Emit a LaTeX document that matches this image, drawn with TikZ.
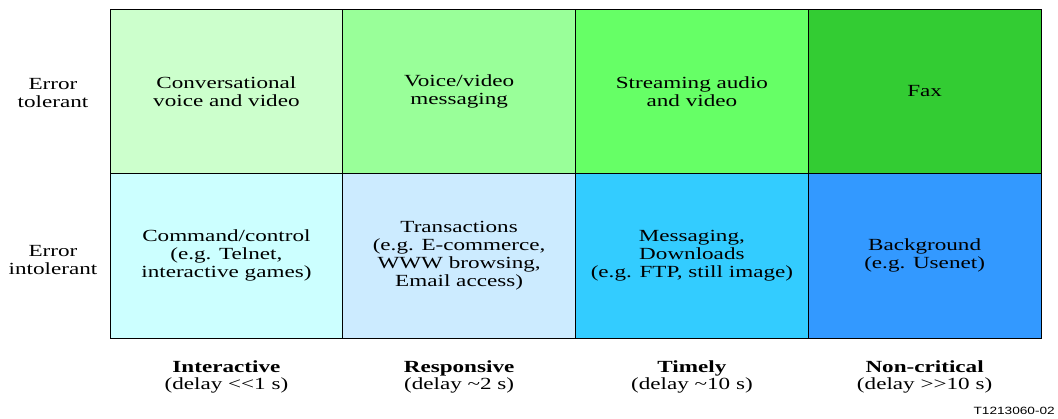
\documentclass[tikz,border=0pt]{standalone}
\usepackage{fontspec}
\setmainfont{Liberation Serif}[FakeStretch=1.36]
\newfontfamily\tagfont{Liberation Sans}[FakeStretch=1.3]
\definecolor{tolA}{HTML}{CCFFCC}
\definecolor{tolB}{HTML}{99FF99}
\definecolor{tolC}{HTML}{66FF66}
\definecolor{tolD}{HTML}{33CC33}
\definecolor{intA}{HTML}{CCFFFF}
\definecolor{intB}{HTML}{CCEBFF}
\definecolor{intC}{HTML}{33CCFF}
\definecolor{intD}{HTML}{3399FF}
\begin{document}
\begin{tikzpicture}
	[x=1pt,y=-1pt,
	every node/.style={align=center,inner sep=0pt,font=\fontsize{17}{18}\selectfont},
	cell/.style={draw=black,line width=0.7pt,minimum width=232.75pt,minimum height=164.5pt},
	axis/.style={font=\fontsize{17}{17}\selectfont}]
	\useasboundingbox (0,0) rectangle (1058,418);
	% error tolerant row
	\node [cell,fill=tolA] (conv) at (226.4,91.25) {Conversational\\voice and video};
	\node [cell,fill=tolB] (vmsg) at (459.1,91.25) {Voice/video\\messaging};
	\node [cell,fill=tolC] (stream) at (691.9,91.25) {Streaming audio\\and video};
	\node [cell,fill=tolD] (fax) at (924.6,91.25) {Fax};
	% error intolerant row
	\node [cell,fill=intA] (cmd) at (226.4,255.75) {Command/control\\(e.g. Telnet,\\interactive games)};
	\node [cell,fill=intB] (trans) at (459.1,255.75) {Transactions\\(e.g. E-commerce,\\WWW browsing,\\Email access)};
	\node [cell,fill=intC] (dload) at (691.9,255.75) {Messaging,\\Downloads\\(e.g. FTP, still image)};
	\node [cell,fill=intD] (backgr) at (924.6,255.75) {Background\\(e.g. Usenet)};
	% row labels
	\node (tol) at (53,93) {Error\\tolerant};
	\node (intol) at (53,260) {Error\\intolerant};
	% column labels
	\node [axis] (inter) at (226.4,377) {\textbf{Interactive}\\(delay <{}<1 s)};
	\node [axis] (resp) at (459.1,377) {\textbf{Responsive}\\(delay \textasciitilde 2 s)};
	\node [axis] (timely) at (691.9,377) {\textbf{Timely}\\(delay \textasciitilde 10 s)};
	\node [axis] (noncrit) at (924.6,377) {\textbf{Non-critical}\\(delay >{}>10 s)};
	\node [font=\tagfont\fontsize{10.5}{12}\selectfont,anchor=east] (tag) at (1055,411) {T1213060-02};
\end{tikzpicture}
\end{document}
